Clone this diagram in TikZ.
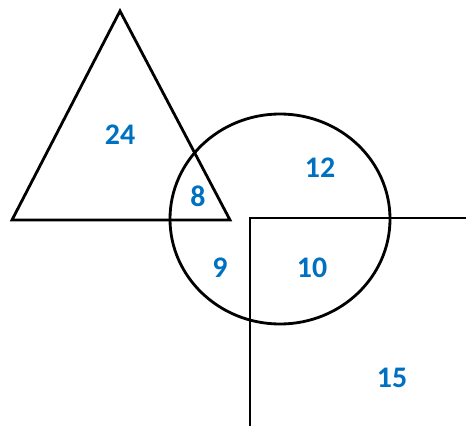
\documentclass[tikz,border=0pt]{standalone}
\usepackage{fontspec}
\setmainfont{Carlito}
\definecolor{numblue}{RGB}{0,112,192}
\begin{document}
\begin{tikzpicture}[x=0.02cm,y=-0.02cm,line width=1.6pt,every node/.style={font=\fontsize{17}{19}\selectfont\bfseries,text=numblue}]
\useasboundingbox (0,0) rectangle (466,426);
\draw[line join=miter] (120,11) -- (12,220) -- (230,220) -- cycle;
\draw (280,219) ellipse [x radius=110,y radius=105];
\draw[line join=miter] (466,218) -- (250,218) -- (250,426);
\node (tri) at (120,135) {24};
\node (circ) at (320,168) {12};
\node (tc) at (198,196) {8};
\node (cl) at (220,268) {9};
\node (cq) at (312,268) {10};
\node (quad) at (392,378) {15};
\end{tikzpicture}
\end{document}
